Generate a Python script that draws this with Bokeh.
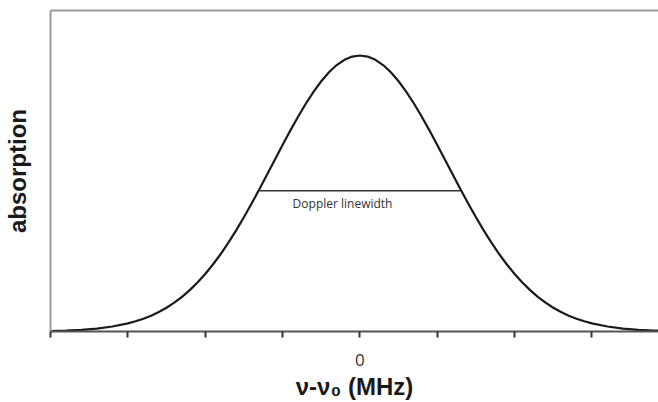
from bokeh.plotting import figure
from bokeh.models import FixedTicker, Range1d, LinearAxis, Label
from bokeh.embed import file_html
from bokeh.resources import INLINE

# Absorption profile (normalised to peak = 1)
freq_offset = [-4.0, -3.8, -3.6, -3.4, -3.2, -3.0, -2.9, -2.8, -2.7, -2.6, -2.5, -2.4, -2.3, -2.2, -2.1,
               -2.0, -1.9, -1.8, -1.7, -1.6, -1.5, -1.4, -1.3, -1.2, -1.1,
               -1.0, -0.9, -0.8, -0.7, -0.6, -0.5, -0.4, -0.3, -0.2, -0.1,
               0.0, 0.1, 0.2, 0.3, 0.4, 0.5, 0.6, 0.7, 0.8, 0.9,
               1.0, 1.1, 1.2, 1.3, 1.4, 1.5, 1.6, 1.7, 1.8, 1.9,
               2.0, 2.1, 2.2, 2.3, 2.4, 2.5, 2.6, 2.7, 2.8, 2.9,
               3.0, 3.2, 3.4, 3.6, 3.8, 3.9]
absorption = [0.0019, 0.0035, 0.0062, 0.0107, 0.0180, 0.0293, 0.0370, 0.0462, 0.0573, 0.0706, 0.0862, 0.1045, 0.1256, 0.1498, 0.1774,
              0.2083, 0.2428, 0.2807, 0.3220, 0.3664, 0.4138, 0.4637, 0.5154, 0.5685, 0.6222,
              0.6756, 0.7279, 0.7780, 0.8252, 0.8683, 0.9066, 0.9392, 0.9653, 0.9844, 0.9961,
              1.0, 0.9961, 0.9844, 0.9653, 0.9392, 0.9066, 0.8683, 0.8252, 0.7780, 0.7279,
              0.6756, 0.6222, 0.5685, 0.5154, 0.4637, 0.4138, 0.3664, 0.3220, 0.2807, 0.2428,
              0.2083, 0.1774, 0.1498, 0.1256, 0.1045, 0.0862, 0.0706, 0.0573, 0.0462, 0.0370,
              0.0293, 0.0180, 0.0107, 0.0062, 0.0035, 0.0026]

# Doppler linewidth marker (half maximum)
linewidth_x = [-1.3, 1.3]
linewidth_y = [0.51, 0.51]

tick_values = [-4, -3, -2, -1, 0, 1, 2, 3]
tick_labels = ["", "", "", "", "0", "", "", ""]

p = figure(width=658, height=402, output_backend="svg", toolbar_location=None,
           x_range=Range1d(-4.0, 3.86), y_range=Range1d(0.0, 1.163),
           min_border_left=50, min_border_top=10, min_border_right=0, min_border_bottom=71,
           x_axis_label="ν-ν₀ (MHz)", y_axis_label="absorption")

p.outline_line_color = None
p.grid.visible = False
p.background_fill_color = "white"
p.border_fill_color = "white"

p.line(freq_offset, absorption, line_color="#1a1a1a", line_width=2.2)
p.line(linewidth_x, linewidth_y, line_color="#333333", line_width=1.3)

p.add_layout(Label(x=-0.87, y=0.462, text="Doppler linewidth", text_font="Open Sans",
                   text_font_size="12px", text_color="#333333", text_baseline="middle",
                   text_align="left"))

xa = p.xaxis[0]
xa.ticker = FixedTicker(ticks=tick_values)
xa.major_label_overrides = {v: l for v, l in zip(tick_values, tick_labels)}
xa.minor_tick_line_color = None
xa.axis_line_color = "#555555"
xa.axis_line_width = 2
xa.major_tick_line_color = "#333333"
xa.major_tick_line_width = 2
xa.major_tick_in = 0
xa.major_tick_out = 6
xa.major_label_standoff = 16
xa.major_label_text_font = "Open Sans"
xa.major_label_text_font_size = "17px"
xa.major_label_text_color = "#333333"
xa.axis_label_text_font = "Liberation Sans"
xa.axis_label_text_font_style = "bold"
xa.axis_label_text_font_size = "24px"
xa.axis_label_text_color = "#1a1a1a"
xa.axis_label_standoff = 4

ya = p.yaxis[0]
ya.ticker = FixedTicker(ticks=[])
ya.major_tick_line_color = None
ya.minor_tick_line_color = None
ya.major_label_text_font_size = "0px"
ya.axis_line_color = "#999999"
ya.axis_line_width = 2
ya.axis_label_text_font = "Liberation Sans"
ya.axis_label_text_font_style = "bold"
ya.axis_label_text_font_size = "24px"
ya.axis_label_text_color = "#1a1a1a"
ya.axis_label_standoff = 20

top = LinearAxis(ticker=FixedTicker(ticks=[]), axis_line_color="#999999", axis_line_width=2,
                 major_tick_line_color=None, minor_tick_line_color=None,
                 major_label_text_font_size="0px")
p.add_layout(top, "above")

open("out.html", "w").write(file_html(p, INLINE))
